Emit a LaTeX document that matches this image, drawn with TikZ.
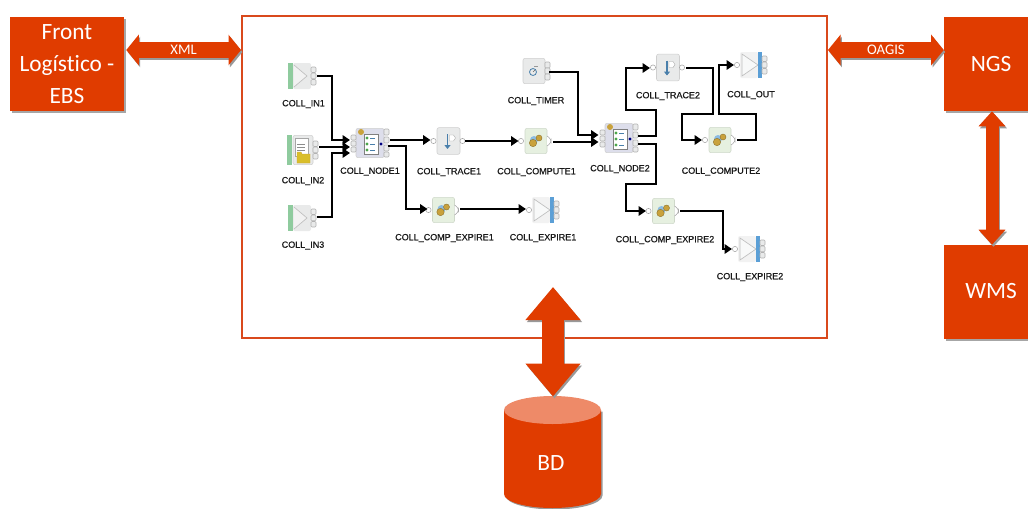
\documentclass[tikz,border=0pt]{standalone}
\usepackage{fontspec}
\setmainfont{Carlito}[Ligatures=NoCommon]
\newfontfamily\lblfont{Liberation Sans}[FakeBold=0.35]
\usetikzlibrary{arrows.meta,shadows,calc}
\definecolor{orangefill}{HTML}{E03C00}
\definecolor{framecol}{HTML}{D9491C}
\definecolor{captop}{HTML}{EE8A68}
\definecolor{iconfill}{HTML}{E9EAEA}
\definecolor{iconedge}{HTML}{CFCFCF}
\definecolor{compfill}{HTML}{E6F0E0}
\definecolor{barblue}{HTML}{5B9FD6}
\definecolor{bargreen}{HTML}{8FCB9E}
\definecolor{gearcol}{HTML}{C9A23C}
\tikzset{
  x=0.75pt,y=-0.75pt,
  orangebox/.style={fill=orangefill,text=white,align=center,inner sep=0pt,
    minimum width=#1*0.75pt,minimum height=70.5pt,
    drop shadow={shadow xshift=1.2pt,shadow yshift=-1.5pt,fill=black,opacity=.35}},
  bigtxt/.style={font=\fontsize{17.5}{24}\selectfont},
  wire/.style={draw=black,line width=1.6pt,line join=miter,-{Triangle[length=5.5pt,width=7pt]}},
  lbl/.style={font=\lblfont\fontsize{6.75}{8}\selectfont,text=black!90,inner sep=0pt},
  iconbox/.style={draw=iconedge,fill=iconfill,rounded corners=1.5pt,line width=.4pt,inner sep=0pt,
    minimum width=#1*0.75pt},
  iconbox/.default=22,
  portc/.style={draw=black!35,fill=white,line width=.4pt},
  portr/.style={draw=black!30,fill=iconfill,line width=.4pt,rounded corners=.8pt},
  arrowlbl/.style={midway,text=white,font=\fontsize{11}{12}\selectfont,inner sep=0pt},
}
% block arrow between two points: {head length}{head width}{shaft}{from}{to}{label}
\newcommand\blockarrow[6]{%
  \draw[black!40,line width=#3*0.75pt,transform canvas={shift={(1.1pt,-1.5pt)}},
    {Triangle[length=#1*0.75pt,width=#2*0.75pt]}-{Triangle[length=#1*0.75pt,width=#2*0.75pt]}] #4 -- #5;
  \draw[orangefill,line width=#3*0.75pt,
    {Triangle[length=#1*0.75pt,width=#2*0.75pt]}-{Triangle[length=#1*0.75pt,width=#2*0.75pt]}] #4 -- #5 #6;
}
\newcommand\threeports[1]{%
  \draw[portr] (#1,-9) rectangle ++(5,5.5);
  \draw[portr] (#1,-2.8) rectangle ++(5,5.5);
  \draw[portr] (#1,3.5) rectangle ++(5,5.5);
}
\newcommand\inicon[3]{%
  \node[iconbox=18,minimum height=19.5pt,draw=none] (#1) at (#2-1,#3) {};
  \begin{scope}[shift={(#2,#3)}]
    \fill[bargreen] (-15,-13) rectangle (-10,13);
    \draw[black!25,fill=iconfill!60,line width=.5pt] (-9,-11) -- (4,0) -- (-9,11);
    \threeports{8}
  \end{scope}}
\newcommand\fileicon[3]{%
  \node[iconbox=20,minimum height=22pt] (#1) at (#2,#3) {};
  \begin{scope}[shift={(#2,#3)}]
    \fill[bargreen] (-16,-15) rectangle (-11,15);
    \fill[white,draw=black!35,line width=.3pt] (-8,-12) rectangle (5,6);
    \draw[black!45,line width=.4pt] (-6,-6) -- (2,-6) (-6,-3) -- (2,-3) (-6,0) -- (2,0);
    \fill[gearcol!70!yellow,draw=gearcol,line width=.3pt] (-6,2) -- (-2,2) -- (-1,4) -- (7,4) -- (7,13) -- (-6,13) -- cycle;
    \threeports{10}
  \end{scope}}
\newcommand\outicon[3]{%
  \node[iconbox=18,minimum height=19.5pt,draw=none,fill=iconfill!60] (#1) at (#2-4,#3) {};
  \begin{scope}[shift={(#2,#3)}]
    \draw[black!25,fill=iconfill!30,line width=.5pt] (-11,-11) -- (5,0) -- (-11,11) -- cycle;
    \fill[barblue] (5,-13) rectangle (9,13);
    \threeports{9}
    \draw[portc] (-16,0) circle (2.6);
  \end{scope}}
\newcommand\compicon[3]{%
  \node[iconbox=22,minimum height=19pt,draw=compfill!90!black,fill=compfill] (#1) at (#2,#3) {};
  \begin{scope}[shift={(#2,#3)}]
    \fill[barblue!70] (-2,-1) circle (4);
    \fill[gearcol,draw=gearcol!70!black,line width=.3pt] (-3,2) circle (3.7);
    \fill[gearcol,draw=gearcol!70!black,line width=.3pt] (3,-3) circle (3);
    \draw[portc] (-15,0) circle (2.6);
    \draw[portc,rounded corners=2pt] (11,-5) -- (15,-2) -- (15,2) -- (11,5);
  \end{scope}}
\newcommand\traceicon[3]{%
  \node[iconbox=23,minimum height=20pt] (#1) at (#2,#3) {};
  \begin{scope}[shift={(#2,#3)}]
    \draw[barblue!80!black,line width=1.3pt,-{Triangle[length=3pt,width=4.5pt]}] (-1,-7) -- (-1,8);
    \draw[black!35,fill=white,line width=.3pt] (1,-6) -- (5,-6) -- (7,-3) -- (5,0) -- (1,0) -- cycle;
    \draw[portc] (-15,0) circle (2.6);
    \draw[portc] (14,0) circle (2.6);
  \end{scope}}
\newcommand\timericon[3]{%
  \node[iconbox=22,minimum height=19pt] (#1) at (#2,#3) {};
  \begin{scope}[shift={(#2,#3)}]
    \draw[barblue!80!black,line width=.6pt] (-1,1) circle (3.5);
    \draw[black!60,line width=.4pt] (-1,1) -- (1,-1);
    \draw[black!40,line width=.4pt] (0,-5) -- (4,-5);
    \draw[portr] (11,-9) rectangle ++(5,6);
    \draw[portr] (11,-3) rectangle ++(5,6);
    \draw[portr] (11,3) rectangle ++(5,6);
  \end{scope}}
\newcommand\nodeicon[3]{%
  \node[iconbox=28,minimum height=22pt,fill=blue!5!iconfill] (#1) at (#2,#3) {};
  \begin{scope}[shift={(#2,#3)}]
    \draw[portr] (-19,-8) rectangle ++(5,5);
    \draw[portr] (-19,-2) rectangle ++(5,5);
    \draw[portr] (-19,4) rectangle ++(5,5);
    \draw[portr] (14,-14) rectangle ++(5,6);
    \draw[portr] (14,-6) rectangle ++(5,6);
    \draw[portr] (14,2) rectangle ++(5,6);
    \draw[portr] (14,9) rectangle ++(5,5);
    \fill[gearcol] (-9,-11) circle (3);
    \draw[black!50,fill=white,line width=.3pt] (-6,-9) rectangle (8,11);
    \foreach \yy in {-5,1,7}{
      \fill[green!50!black!70] (-3,\yy) circle (1.6);
      \draw[barblue!80!black,line width=.7pt] (0,\yy) -- (5,\yy);
    }
    \fill[blue!50!black] (11,1) circle (1.6);
  \end{scope}}
\begin{document}
\begin{tikzpicture}
\clip (0,0) rectangle (1028,508);
\fill[white] (0,0) rectangle (1028,508);

% main frame
\node[draw=framecol,line width=1.5pt,fill=white,minimum width=438.75pt,minimum height=241.5pt,inner sep=0pt] (main) at (534.5,177) {};

% outer boxes
\node[orangebox=114,bigtxt] (front) at (67,64) {\raisebox{-1.5pt}{Front}\\\raisebox{-1.5pt}{Logístico -}\\\raisebox{-1.5pt}{EBS}};
\node[orangebox=94,bigtxt] (ngs) at (991,64) {\raisebox{.8pt}{NGS}};
\node[orangebox=94,bigtxt] (wms) at (991,292) {\raisebox{1pt}{WMS}};

% database cylinder
\fill[black!40,shift={(1.5,1.5)}] (504,410) -- (504,494) arc[start angle=180,end angle=0,x radius=48.5,y radius=14] -- (601,410) -- cycle;
\fill[orangefill] (504,410) -- (504,494) arc[start angle=180,end angle=0,x radius=48.5,y radius=14] -- (601,410) -- cycle;
\fill[captop] (552.5,410) ellipse[x radius=48.5,y radius=14];
\node[text=white,bigtxt,inner sep=0pt] (bd) at (551,463) {BD};
\coordinate (bdtop) at (553,396.5);
\coordinate (rowa) at (0,50);

% block arrows
\blockarrow{12.5}{30}{16}{($(front.east |- rowa)+(1.5pt,0)$)}{(main.west |- rowa)}{node[arrowlbl]{XML}}
\blockarrow{12.5}{30}{16}{(main.east |- rowa)}{(ngs.west |- rowa)}{node[arrowlbl]{OAGIS}}
\blockarrow{15}{26}{13}{($(ngs.south)+(.75pt,0)$)}{($(wms.north)+(.75pt,0)$)}{}
\coordinate (bdarrowtop) at (553,287);
\blockarrow{33}{53}{22}{(bdarrowtop)}{(bdtop)}{}

% icons
\inicon{in1}{303}{76}
\fileicon{in2}{303}{150}
\inicon{in3}{303}{218}
\nodeicon{n1}{370}{143}
\traceicon{t1}{448.5}{141}
\compicon{c1}{536}{141}
\compicon{ce1}{443.5}{210}
\outicon{e1}{545}{210}
\timericon{tm}{534}{71}
\nodeicon{n2}{619}{138}
\traceicon{t2}{668}{67.5}
\outicon{o1}{753}{65}
\compicon{c2}{720}{140}
\compicon{ce2}{663.5}{211}
\outicon{e2}{751}{249}

% labels
\node[lbl] (lin1) at (303.5,104) {COLL\_IN1};
\node[lbl] (lin2) at (303,181) {COLL\_IN2};
\node[lbl] (lin3) at (303,245.5) {COLL\_IN3};
\node[lbl] (ln1) at (370,171.5) {COLL\_NODE1};
\node[lbl] (lt1) at (449,172) {COLL\_TRACE1};
\node[lbl] (lc1) at (536.5,172) {COLL\_COMPUTE1};
\node[lbl] (lce1) at (444.5,238) {COLL\_COMP\_EXPIRE1};
\node[lbl] (le1) at (543,238) {COLL\_EXPIRE1};
\node[lbl] (ltm) at (536,101) {COLL\_TIMER};
\node[lbl] (ln2) at (620,169) {COLL\_NODE2};
\node[lbl] (lt2) at (668,96) {COLL\_TRACE2};
\node[lbl] (lo1) at (751,95) {COLL\_OUT};
\node[lbl] (lc2) at (721,171.5) {COLL\_COMPUTE2};
\node[lbl] (lce2) at (665,240) {COLL\_COMP\_EXPIRE2};
\node[lbl] (le2) at (750,277) {COLL\_EXPIRE2};

% ports used by the connectors
\coordinate (in1o) at (317,76);  \coordinate (in2o) at (319,147); \coordinate (in3o) at (317,217);
\coordinate (n1a) at (350,140);  \coordinate (n1b) at (350,147);  \coordinate (n1c) at (350,153);
\coordinate (n1x) at (390,140);  \coordinate (n1y) at (388,146);
\coordinate (t1i) at (430.5,140);\coordinate (t1o) at (465,141);
\coordinate (c1i) at (518.5,141);\coordinate (c1o) at (553,142);
\coordinate (ce1i) at (427.5,209);\coordinate (ce1o) at (460,209);
\coordinate (e1i) at (526,209);
\coordinate (tmo) at (549,72);
\coordinate (n2a) at (598.5,135);\coordinate (n2b) at (598.5,142);
\coordinate (n2x) at (638,136);  \coordinate (n2y) at (638,144);
\coordinate (t2i) at (650,68);   \coordinate (t2o) at (686,68);
\coordinate (c2i) at (702,140);  \coordinate (c2o) at (737,140);
\coordinate (o1i) at (734,65);
\coordinate (ce2i) at (646,211); \coordinate (ce2o) at (680,211);
\coordinate (e2i) at (732,249);

% connectors
\draw[wire] (in1o) -- ++(15,0) |- (n1a);
\draw[wire] (in2o) -- (n1b);
\draw[wire] (in3o) -- ++(15,0) |- (n1c);
\draw[wire] (n1x) -- (t1i);
\draw[wire] (t1o) -- (c1i);
\draw[wire] (n1y) -- ++(18,0) |- (ce1i);
\draw[wire] (ce1o) -- (e1i);
\draw[wire] (tmo) -- ++(29,0) |- (n2a);
\draw[wire] (c1o) -- (n2b);
\draw[wire] (n2x) -- ++(18,0) -- ++(0,-26) -- ++(-30,0) |- (t2i);
\draw[wire] (t2o) -- ++(27,0) -- ++(0,46) -- ++(-31,0) |- (c2i);
\draw[wire] (c2o) -- ++(19,0) -- ++(0,-26) -- ++(-37,0) |- (o1i);
\draw[wire] (n2y) -- ++(18,0) -- ++(0,40) -- ++(-30,0) |- (ce2i);
\draw[wire] (ce2o) -- ++(43,0) |- (e2i);
\end{tikzpicture}
\end{document}
